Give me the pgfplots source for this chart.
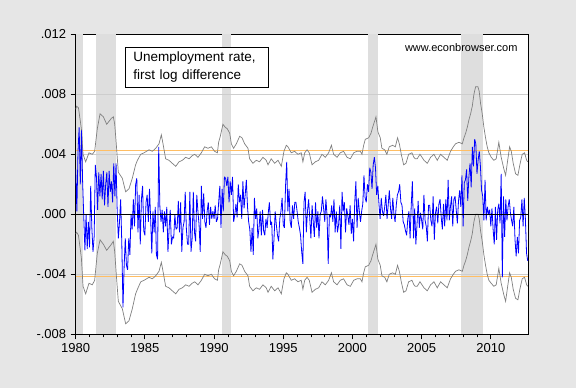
\documentclass[border=0pt]{standalone}
\usepackage{pgfplots}
\pgfplotsset{compat=1.18}
\usepackage{pgfplotstable}
\usepackage{fontspec}
\setmainfont{Liberation Sans}
\definecolor{bg}{RGB}{230,230,230}
\definecolor{shade}{RGB}{222,222,222}
\definecolor{gridc}{RGB}{205,205,205}
\definecolor{orng}{RGB}{255,190,100}
\definecolor{bandc}{RGB}{128,128,128}
\definecolor{blu}{RGB}{0,0,255}
% values in units of 0.001
\pgfplotstableread[row sep=\\]{v\\
3.0\\0.2\\4.2\\5.8\\2.0\\5.6\\2.2\\-0.2\\-2.4\\0.0\\
-2.3\\-0.5\\-2.2\\1.9\\-0.9\\-2.5\\-1.5\\3.3\\2.5\\0.3\\
2.8\\1.2\\2.7\\1.0\\2.9\\0.6\\2.0\\2.8\\0.5\\2.9\\
1.5\\2.2\\0.8\\3.4\\1.2\\3.4\\0.2\\-1.6\\-0.5\\1.0\\
-2.0\\-6.2\\-3.5\\-1.6\\-3.4\\-3.7\\-1.6\\-2.7\\0.0\\-1.0\\
1.0\\-0.8\\2.0\\2.4\\-1.2\\1.3\\-2.0\\1.0\\1.9\\-1.1\\
-1.4\\0.8\\1.3\\-0.5\\1.7\\-0.3\\-2.6\\0.2\\-1.2\\0.5\\
-2.7\\-3.0\\4.5\\0.5\\-0.5\\0.3\\-1.2\\0.2\\-0.8\\0.5\\
-2.5\\-1.0\\0.3\\-2.0\\-1.5\\-1.6\\0.0\\-1.0\\-0.9\\0.9\\
-1.2\\0.8\\-2.5\\-0.9\\-0.5\\1.5\\-1.0\\-2.0\\-2.0\\1.5\\
-2.5\\-1.6\\1.5\\-1.2\\-1.8\\1.3\\0.2\\-0.7\\-2.5\\1.9\\
-0.3\\1.4\\-0.5\\-0.9\\0.2\\0.8\\-0.7\\0.5\\-0.3\\0.2\\
-0.3\\0.6\\-0.5\\-0.3\\0.8\\1.9\\-0.9\\1.7\\0.2\\2.5\\
2.4\\1.9\\2.5\\0.8\\2.2\\1.3\\2.5\\-0.5\\0.0\\0.7\\
-0.2\\2.0\\0.8\\1.3\\-0.3\\2.2\\0.4\\1.3\\2.3\\0.5\\
-0.5\\-1.0\\-2.5\\-0.9\\-2.7\\1.1\\-0.3\\0.4\\-1.6\\-0.9\\
0.2\\-1.4\\0.3\\-1.1\\-1.4\\-0.3\\-0.9\\0.1\\0.8\\-0.7\\
-0.5\\-3.0\\-1.6\\0.2\\-0.7\\-1.4\\-1.8\\-0.3\\0.2\\1.1\\
-0.7\\-0.9\\1.9\\3.5\\0.2\\1.7\\-0.5\\-0.9\\0.6\\-0.3\\
0.8\\0.8\\0.2\\-0.5\\-0.9\\-1.4\\-2.5\\-3.3\\0.8\\1.5\\
-1.2\\0.2\\1.0\\-0.3\\-1.6\\0.6\\-0.5\\-1.5\\0.8\\-0.9\\
0.2\\-1.6\\0.0\\0.2\\1.2\\0.4\\-0.5\\1.0\\-0.1\\-3.3\\
0.0\\-0.2\\0.6\\-0.5\\1.0\\-1.2\\0.2\\-1.2\\-0.7\\0.6\\
-2.3\\1.5\\0.2\\0.8\\-1.2\\0.4\\-0.1\\-0.7\\0.6\\-1.3\\
-0.3\\-1.8\\0.8\\2.2\\-0.9\\1.1\\0.2\\-0.5\\0.2\\0.7\\
2.6\\1.1\\0.8\\2.0\\1.5\\3.1\\2.8\\1.7\\3.3\\3.8\\
3.1\\1.3\\1.9\\0.7\\-0.3\\1.1\\0.2\\-0.1\\0.5\\1.3\\
-0.3\\0.6\\1.6\\0.4\\-0.3\\1.1\\0.0\\-0.5\\0.6\\1.3\\
1.5\\2.0\\0.8\\0.6\\-0.5\\-0.7\\-1.1\\-1.4\\-0.3\\0.2\\
-1.6\\0.6\\2.2\\-1.6\\0.4\\-2.0\\-0.7\\0.9\\-0.9\\0.1\\
-0.4\\-1.0\\1.3\\-0.4\\-0.8\\-1.8\\0.6\\0.6\\-0.4\\-0.8\\
1.2\\-1.7\\0.1\\0.5\\-0.6\\0.7\\1.0\\-0.2\\-1.0\\0.7\\
-0.8\\1.0\\-0.4\\2.3\\-0.4\\0.5\\1.2\\-0.8\\1.0\\1.2\\
0.3\\-0.6\\0.9\\1.6\\0.5\\2.6\\-0.8\\2.1\\2.3\\3.0\\
0.9\\2.5\\3.4\\1.8\\4.5\\3.2\\5.0\\4.7\\2.7\\3.6\\
4.2\\3.2\\1.6\\1.2\\-0.4\\2.3\\-0.4\\0.5\\0.0\\0.3\\
-0.8\\0.4\\-1.0\\-2.0\\0.5\\-1.7\\0.3\\0.7\\-0.6\\2.7\\
-4.2\\1.2\\-1.5\\1.0\\-0.4\\0.5\\1.0\\0.1\\-0.4\\-0.8\\
0.5\\-1.7\\-2.8\\-1.5\\-2.6\\-0.4\\-0.2\\1.0\\-0.8\\1.1\\
-0.3\\-2.6\\-3.1\\
}\blueser
% upper band u and band width w (units of 0.001); lower band = u - w
\pgfplotstableread[row sep=\\]{t u w\\
1980.00 7.0 8.3\\1980.07 7.2 8.4\\1980.20 7.1 8.5\\1980.41 5.7 8.6\\1980.53 4.0 8.8\\1980.72 3.5 8.8\\1980.96 4.1 8.7\\
1981.20 4.0 8.7\\1981.37 4.2 8.6\\1981.56 5.7 8.3\\1981.76 6.7 8.4\\1982.00 6.5 8.5\\1982.24 6.0 8.4\\1982.41 6.2 8.4\\
1982.58 6.4 8.4\\1982.72 6.5 8.3\\1982.82 6.0 8.5\\1982.94 4.6 8.7\\1983.08 2.8 8.6\\1983.37 2.4 8.7\\1983.61 1.5 8.8\\
1983.85 1.7 8.8\\1984.09 2.4 8.7\\1984.33 3.3 8.6\\1984.46 3.6 8.6\\1984.70 4.0 8.5\\1984.94 4.1 8.5\\1985.30 4.3 8.5\\
1985.54 4.2 8.5\\1985.78 4.4 8.5\\1986.02 4.7 8.5\\1986.19 5.3 8.5\\1986.33 4.6 8.5\\1986.50 3.7 8.5\\1986.74 3.6 8.5\\
1986.98 3.4 8.5\\1987.23 3.2 8.5\\1987.47 3.5 8.5\\1987.71 3.6 8.5\\1987.95 3.8 8.5\\1988.19 3.7 8.5\\1988.41 3.9 8.5\\
1988.60 4.0 8.5\\1988.84 3.8 8.5\\1989.08 4.1 8.5\\1989.32 4.5 8.5\\1989.56 4.4 8.5\\1989.80 4.5 8.5\\1990.04 4.2 8.5\\
1990.24 4.1 8.5\\1990.33 4.8 8.5\\1990.45 5.2 8.5\\1990.64 6.0 8.5\\1990.81 5.8 8.5\\1990.96 5.7 8.5\\1991.13 5.4 8.5\\
1991.25 4.7 8.5\\1991.41 4.4 8.5\\1991.61 4.7 8.5\\1991.85 5.2 8.5\\1992.02 5.1 8.5\\1992.21 4.7 8.5\\1992.45 4.4 8.5\\
1992.57 3.7 8.5\\1992.81 3.4 8.5\\1993.05 3.6 8.5\\1993.29 3.5 8.5\\1993.53 3.8 8.5\\1993.77 3.6 8.5\\1993.90 3.3 8.5\\
1994.13 3.7 8.5\\1994.38 3.4 8.5\\1994.62 3.6 8.5\\1994.86 3.2 8.5\\1995.05 4.2 8.5\\1995.22 4.6 8.5\\1995.34 4.5 8.5\\
1995.58 4.1 8.5\\1995.82 4.2 8.5\\1996.06 4.0 8.5\\1996.30 4.1 8.5\\1996.42 3.5 8.5\\1996.55 4.1 8.5\\1996.72 4.3 8.5\\
1996.88 4.1 8.5\\1997.08 3.3 8.5\\1997.32 3.5 8.5\\1997.56 3.6 8.5\\1997.80 4.0 8.5\\1998.04 3.8 8.5\\1998.28 4.1 8.5\\
1998.48 4.6 8.5\\1998.64 4.0 8.5\\1998.89 3.8 8.5\\1999.12 4.1 8.5\\1999.36 4.2 8.5\\1999.61 3.8 8.5\\1999.85 3.7 8.5\\
2000.09 4.1 8.5\\2000.33 4.2 8.5\\2000.57 4.2 8.5\\2000.69 4.0 8.5\\2000.81 4.6 8.5\\2000.93 5.0 8.5\\2001.17 5.1 8.5\\
2001.34 5.4 8.5\\2001.46 5.8 8.5\\2001.60 6.2 8.5\\2001.70 6.5 8.5\\2001.84 5.5 8.5\\2002.01 5.1 8.5\\2002.13 4.4 8.5\\
2002.33 4.3 8.5\\2002.49 4.0 8.5\\2002.66 4.5 8.5\\2002.90 4.6 8.5\\2003.10 4.5 8.5\\2003.26 5.1 8.5\\2003.39 4.7 8.5\\
2003.53 4.0 8.5\\2003.70 3.3 8.5\\2003.87 3.4 8.5\\2004.06 4.0 8.5\\2004.30 4.1 8.5\\2004.44 3.8 8.5\\2004.54 3.7 8.5\\
2004.68 3.7 8.5\\2004.88 4.0 8.5\\2005.17 3.6 8.5\\2005.41 3.4 8.5\\2005.65 3.8 8.5\\2005.89 4.0 8.5\\2006.13 3.6 8.5\\
2006.37 4.0 8.5\\2006.61 3.8 8.5\\2006.85 3.6 8.5\\2007.09 4.2 8.5\\2007.29 4.5 8.5\\2007.45 4.7 8.5\\2007.70 4.8 8.5\\
2007.94 4.7 8.5\\2008.06 5.1 8.5\\2008.18 5.4 8.5\\2008.30 5.8 8.5\\2008.42 6.3 8.5\\2008.54 6.7 8.5\\2008.66 7.2 8.5\\
2008.78 8.0 8.5\\2008.90 8.5 8.5\\2009.07 8.5 8.5\\2009.16 8.2 8.5\\2009.26 7.4 8.5\\2009.38 6.7 8.5\\2009.50 5.8 8.5\\
2009.62 5.1 8.5\\2009.74 4.5 8.5\\2009.86 4.1 8.5\\2010.03 3.8 8.4\\2010.22 3.6 8.4\\2010.39 3.7 8.4\\2010.58 4.8 8.4\\
2010.75 3.8 8.4\\2010.95 3.0 8.4\\2011.07 2.6 8.4\\2011.19 3.4 8.4\\2011.36 4.5 8.4\\2011.48 4.2 8.4\\2011.62 3.4 8.4\\
2011.79 2.7 8.3\\2011.96 2.6 8.3\\2012.10 3.3 8.3\\2012.27 4.0 8.3\\2012.44 4.1 8.3\\2012.59 3.6 8.3\\2012.67 3.5 8.3\\
}\band
\begin{document}
\begin{tikzpicture}
\fill[bg] (-75.7pt,-53.7pt) rectangle (500.3pt,334.3pt);
\begin{axis}[
  at={(0,0)}, anchor=south west,
  scale only axis, width=452.6pt, height=300pt,
  xmin=1980, xmax=2012.71, ymin=-8, ymax=12,
  axis background/.style={fill=white},
  xtick={1980,1985,...,2010},
  xticklabels={1980,1985,1990,1995,2000,2005,2010},
  minor x tick num=4,
  ytick={-8,-4,0,4,8,12},
  yticklabels={-.008,-.004,.000,.004,.008,.012},
  tick align=outside, xtick pos=bottom, ytick pos=left,
  major tick length=5pt, minor tick length=3pt,
  tick style={black, line width=0.8pt},
  axis line style={black, line width=0.9pt},
  /pgf/number format/assume math mode=true,
  ticklabel style={font=\fontsize{13}{15}\selectfont},
  xticklabel style={yshift=-1pt},
  yticklabel style={xshift=-1pt},
  clip=true,
]
% recession shading
\addplot[draw=none, fill=shade] coordinates {(1980,-8) (1980.5,-8) (1980.5,12) (1980,12)};
\addplot[draw=none, fill=shade] coordinates {(1981.5,-8) (1982.9,-8) (1982.9,12) (1981.5,12)};
\addplot[draw=none, fill=shade] coordinates {(1990.55,-8) (1991.2,-8) (1991.2,12) (1990.55,12)};
\addplot[draw=none, fill=shade] coordinates {(2001.15,-8) (2001.85,-8) (2001.85,12) (2001.15,12)};
\addplot[draw=none, fill=shade] coordinates {(2007.87,-8) (2009.42,-8) (2009.42,12) (2007.87,12)};
% grid lines
\addplot[gridc, line width=0.8pt] coordinates {(1980,8) (2012.71,8)};
\addplot[gridc, line width=0.8pt] coordinates {(1980,4) (2012.71,4)};
\addplot[gridc, line width=0.8pt] coordinates {(1980,-4) (2012.71,-4)};
% +- 2 sd lines
\addplot[orng, line width=0.9pt] coordinates {(1980,4.27) (2012.71,4.27)};
\addplot[orng, line width=0.9pt] coordinates {(1980,-4.13) (2012.71,-4.13)};
% bands
\addplot[bandc, line width=0.7pt] table[x=t, y=u] {\band};
\addplot[bandc, line width=0.7pt] table[x=t, y expr=\thisrow{u}-\thisrow{w}] {\band};
% series
\addplot[blu, line width=0.8pt, line join=bevel] table[x expr=1980+\coordindex/12, y=v] {\blueser};
% zero line
\addplot[black, line width=0.9pt] coordinates {(1980,0) (2012.71,0)};
\node[draw=black, line width=0.8pt, fill=white, anchor=north west, align=left,
      inner xsep=8pt, inner ysep=5pt, text width=127pt,
      font=\fontsize{13.5}{18}\selectfont]
  at (rel axis cs:0.109,0.959) {Unemployment rate,\\first log difference};
\node[anchor=east, font=\fontsize{11}{13}\selectfont] at (rel axis cs:0.984,0.956) {www.econbrowser.com};
\end{axis}
\end{tikzpicture}
\end{document}
